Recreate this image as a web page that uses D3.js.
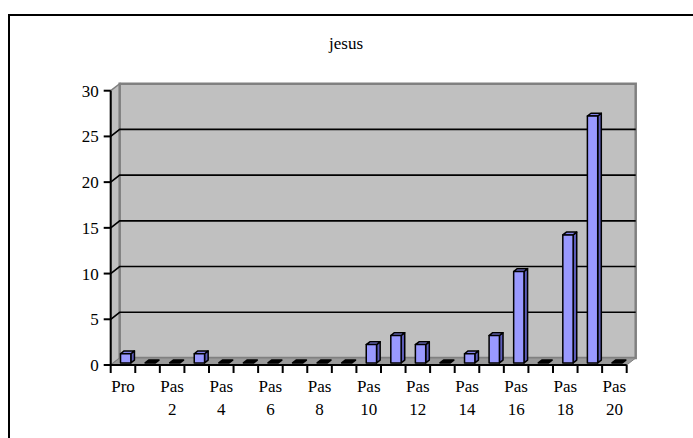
<!DOCTYPE html>
<html><head><meta charset="utf-8">
<script src="https://cdn.jsdelivr.net/npm/d3@7"></script>
<style>body{margin:0;background:#fff}svg{display:block}</style>
</head><body>
<svg id="c" width="693" height="438"></svg>
<script>
const title = "jesus";
const categories = ["Pro","Pas 1","Pas 2","Pas 3","Pas 4","Pas 5","Pas 6","Pas 7","Pas 8","Pas 9","Pas 10",
  "Pas 11","Pas 12","Pas 13","Pas 14","Pas 15","Pas 16","Pas 17","Pas 18","Pas 19","Pas 20"];
const values = [1,0,0,1,0,0,0,0,0,0,2,3,2,0,1,3,10,0,14,27,0];
const yTicks = [0,5,10,15,20,25,30];

const svg = d3.select("#c");
const FONT = "Liberation Serif, Times New Roman, serif";
const FS = 17;
const DX = 9, DY = -7;
const x = d3.scaleBand().domain(categories).range([110.7, 626.7]).padding(0);
const y = d3.scaleLinear().domain([0,30]).range([365, 90.7]);
const x0 = x.range()[0], x1 = x.range()[1];

// frame
svg.append("rect").attr("x",9).attr("y",15).attr("width",720).attr("height",460)
  .attr("fill","#fff").attr("stroke","#000").attr("stroke-width",2);

// title
svg.append("text").attr("x",346).attr("y",49).attr("text-anchor","middle")
  .attr("font-family",FONT).attr("font-size",FS).text(title);

const line = d3.line();
// left wall
svg.append("path").attr("d", line([[x0,y(0)],[x0,y(30)],[x0+DX,y(30)+DY],[x0+DX,y(0)+DY]])+"Z")
  .attr("fill","#c0c0c0").attr("stroke","#808080").attr("stroke-width",1.5);
// back wall
svg.append("path").attr("d", line([[x0+DX,y(0)+DY],[x0+DX,y(30)+DY],[x1+DX,y(30)+DY],[x1+DX,y(0)+DY]])+"Z")
  .attr("fill","#c0c0c0").attr("stroke","#808080").attr("stroke-width",2.5);
// floor
svg.append("path").attr("d", line([[x0,y(0)],[x0+DX,y(0)+DY],[x1+DX,y(0)+DY],[x1,y(0)]])+"Z")
  .attr("fill","#9a9a9a").attr("stroke","#808080").attr("stroke-width",1);

// gridlines
const gv = yTicks.filter(v => v>0 && v<30);
svg.append("g").selectAll("path").data(gv).join("path")
  .attr("d", v => line([[x0,y(v)],[x0+DX,y(v)+DY],[x1+DX,y(v)+DY]]))
  .attr("fill","none").attr("stroke","#000").attr("stroke-width",1.6);

// bars
const f = 0.3, dd = 0.4, bw = x.bandwidth()*0.42;
const bars = svg.append("g");
categories.forEach((c,i) => {
  const v = values[i];
  const bx = x(c) + (x.bandwidth()-bw)/2 + f*DX;
  const yb = y(0) + f*DY, yt = y(v) + f*DY;
  const ddx = dd*DX, ddy = dd*DY;
  const g = bars.append("g").attr("stroke","#000").attr("stroke-width",1.5).attr("stroke-linejoin","round");
  if (v > 0) {
    g.append("path").attr("d", line([[bx+bw,yt],[bx+bw+ddx,yt+ddy],[bx+bw+ddx,yb+ddy],[bx+bw,yb]])+"Z").attr("fill","#5c5cb8");
    g.append("path").attr("d", line([[bx,yt],[bx+ddx,yt+ddy],[bx+bw+ddx,yt+ddy],[bx+bw,yt]])+"Z").attr("fill","#8080e6");
    g.append("rect").attr("x",bx).attr("y",yt).attr("width",bw).attr("height",yb-yt).attr("fill","#9999ff");
  } else {
    g.append("path").attr("d", line([[bx,yt],[bx+ddx,yt+ddy],[bx+bw+ddx,yt+ddy],[bx+bw,yt]])+"Z").attr("fill","#000");
  }
});

// axes
svg.append("line").attr("x1",x0).attr("x2",x0).attr("y1",y(0)).attr("y2",y(30))
  .attr("stroke","#000").attr("stroke-width",2);
svg.append("line").attr("x1",x0).attr("x2",x1).attr("y1",y(0)).attr("y2",y(0))
  .attr("stroke","#000").attr("stroke-width",2);

// y ticks & labels
const yg = svg.append("g");
yTicks.forEach(v => {
  yg.append("line").attr("x1",x0-7).attr("x2",x0).attr("y1",y(v)).attr("y2",y(v)).attr("stroke","#000").attr("stroke-width",2);
  yg.append("text").attr("x",x0-12).attr("y",y(v)+6).attr("text-anchor","end")
    .attr("font-family",FONT).attr("font-size",FS).text(v);
});

// x ticks
const bounds = categories.map(c => x(c)).concat([x1]);
svg.append("g").selectAll("line").data(bounds).join("line")
  .attr("x1",d=>d).attr("x2",d=>d).attr("y1",y(0)).attr("y2",y(0)+8)
  .attr("stroke","#000").attr("stroke-width",2);

// x labels (every other)
const xl = svg.append("g");
categories.forEach((c,i) => {
  if (i % 2) return;
  const cx = x(c) + x.bandwidth()/2;
  const parts = c.split(" ");
  const t = xl.append("text").attr("text-anchor","middle").attr("font-family",FONT).attr("font-size",FS);
  parts.forEach((p,k) => t.append("tspan").attr("x",cx).attr("y",392 + k*23).text(p));
});
</script>
</body></html>
